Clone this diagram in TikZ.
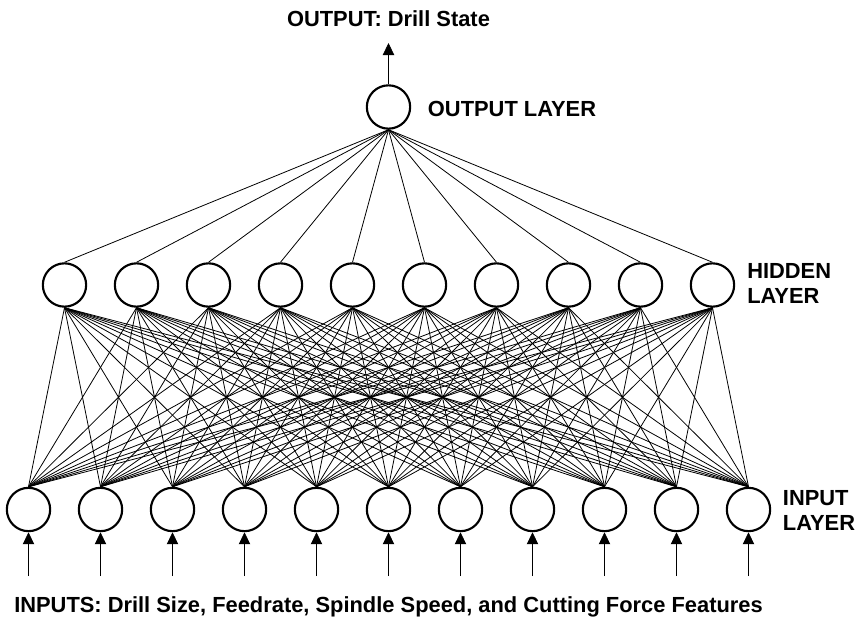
\documentclass[tikz,border=0pt]{standalone}
\usepackage{fontspec}
\setmainfont{Liberation Sans}
\usetikzlibrary{arrows.meta}

\tikzset{
  neuron/.style={circle, draw, line width=1.6pt, minimum size=32.5pt, inner sep=0pt, fill=white},
  link/.style={line width=0.6pt},
  feed/.style={line width=0.6pt, -{Triangle[width=8.5pt,length=9pt]}},
  tag/.style={inner sep=0pt, font=\fontsize{16.4}{18}\selectfont\bfseries},
}

\begin{document}
\begin{tikzpicture}[x=0.75pt,y=0.75pt,yscale=-1]
\useasboundingbox (0,0) rectangle (858,618);

% layers
\node (out) [neuron] at (388.5,107) {};
\foreach \i in {0,...,9} \node (h\i) [neuron] at ({64.5+72*\i},285) {};
\foreach \i in {0,...,10} \node (in\i) [neuron] at ({28.5+72*\i},509.5) {};

% weights
\foreach \i in {0,...,9} \draw [link] (out.south) -- (h\i.north);
\foreach \i in {0,...,9} \foreach \j in {0,...,10} \draw [link] (h\i.south) -- (in\j.north);

% inputs and output
\foreach \i in {0,...,10} {
  \coordinate (src\i) at ({28.5+72*\i},576);
  \draw [feed] (src\i) -- (in\i.south);
}
\coordinate (sink) at (388.5,43);
\draw [feed] (out.north) -- (sink);

% labels
\node (title) [tag, anchor=base] at (388.5,26) {OUTPUT: Drill State};
\node (outlab) [tag, anchor=base west] at (427.7,116.7) {OUTPUT LAYER};
\node (hidlab) [tag, anchor=base west] at (747,278.3) {HIDDEN};
\node (hidlab2) [tag, anchor=base west] at (747,303.3) {LAYER};
\node (inlab) [tag, anchor=base west] at (782.7,505) {INPUT};
\node (inlab2) [tag, anchor=base west] at (782.7,530) {LAYER};
\node (inputs) [tag, anchor=base] at (388.5,612.7) {INPUTS: Drill Size, Feedrate, Spindle Speed, and Cutting Force Features};
\end{tikzpicture}
\end{document}
